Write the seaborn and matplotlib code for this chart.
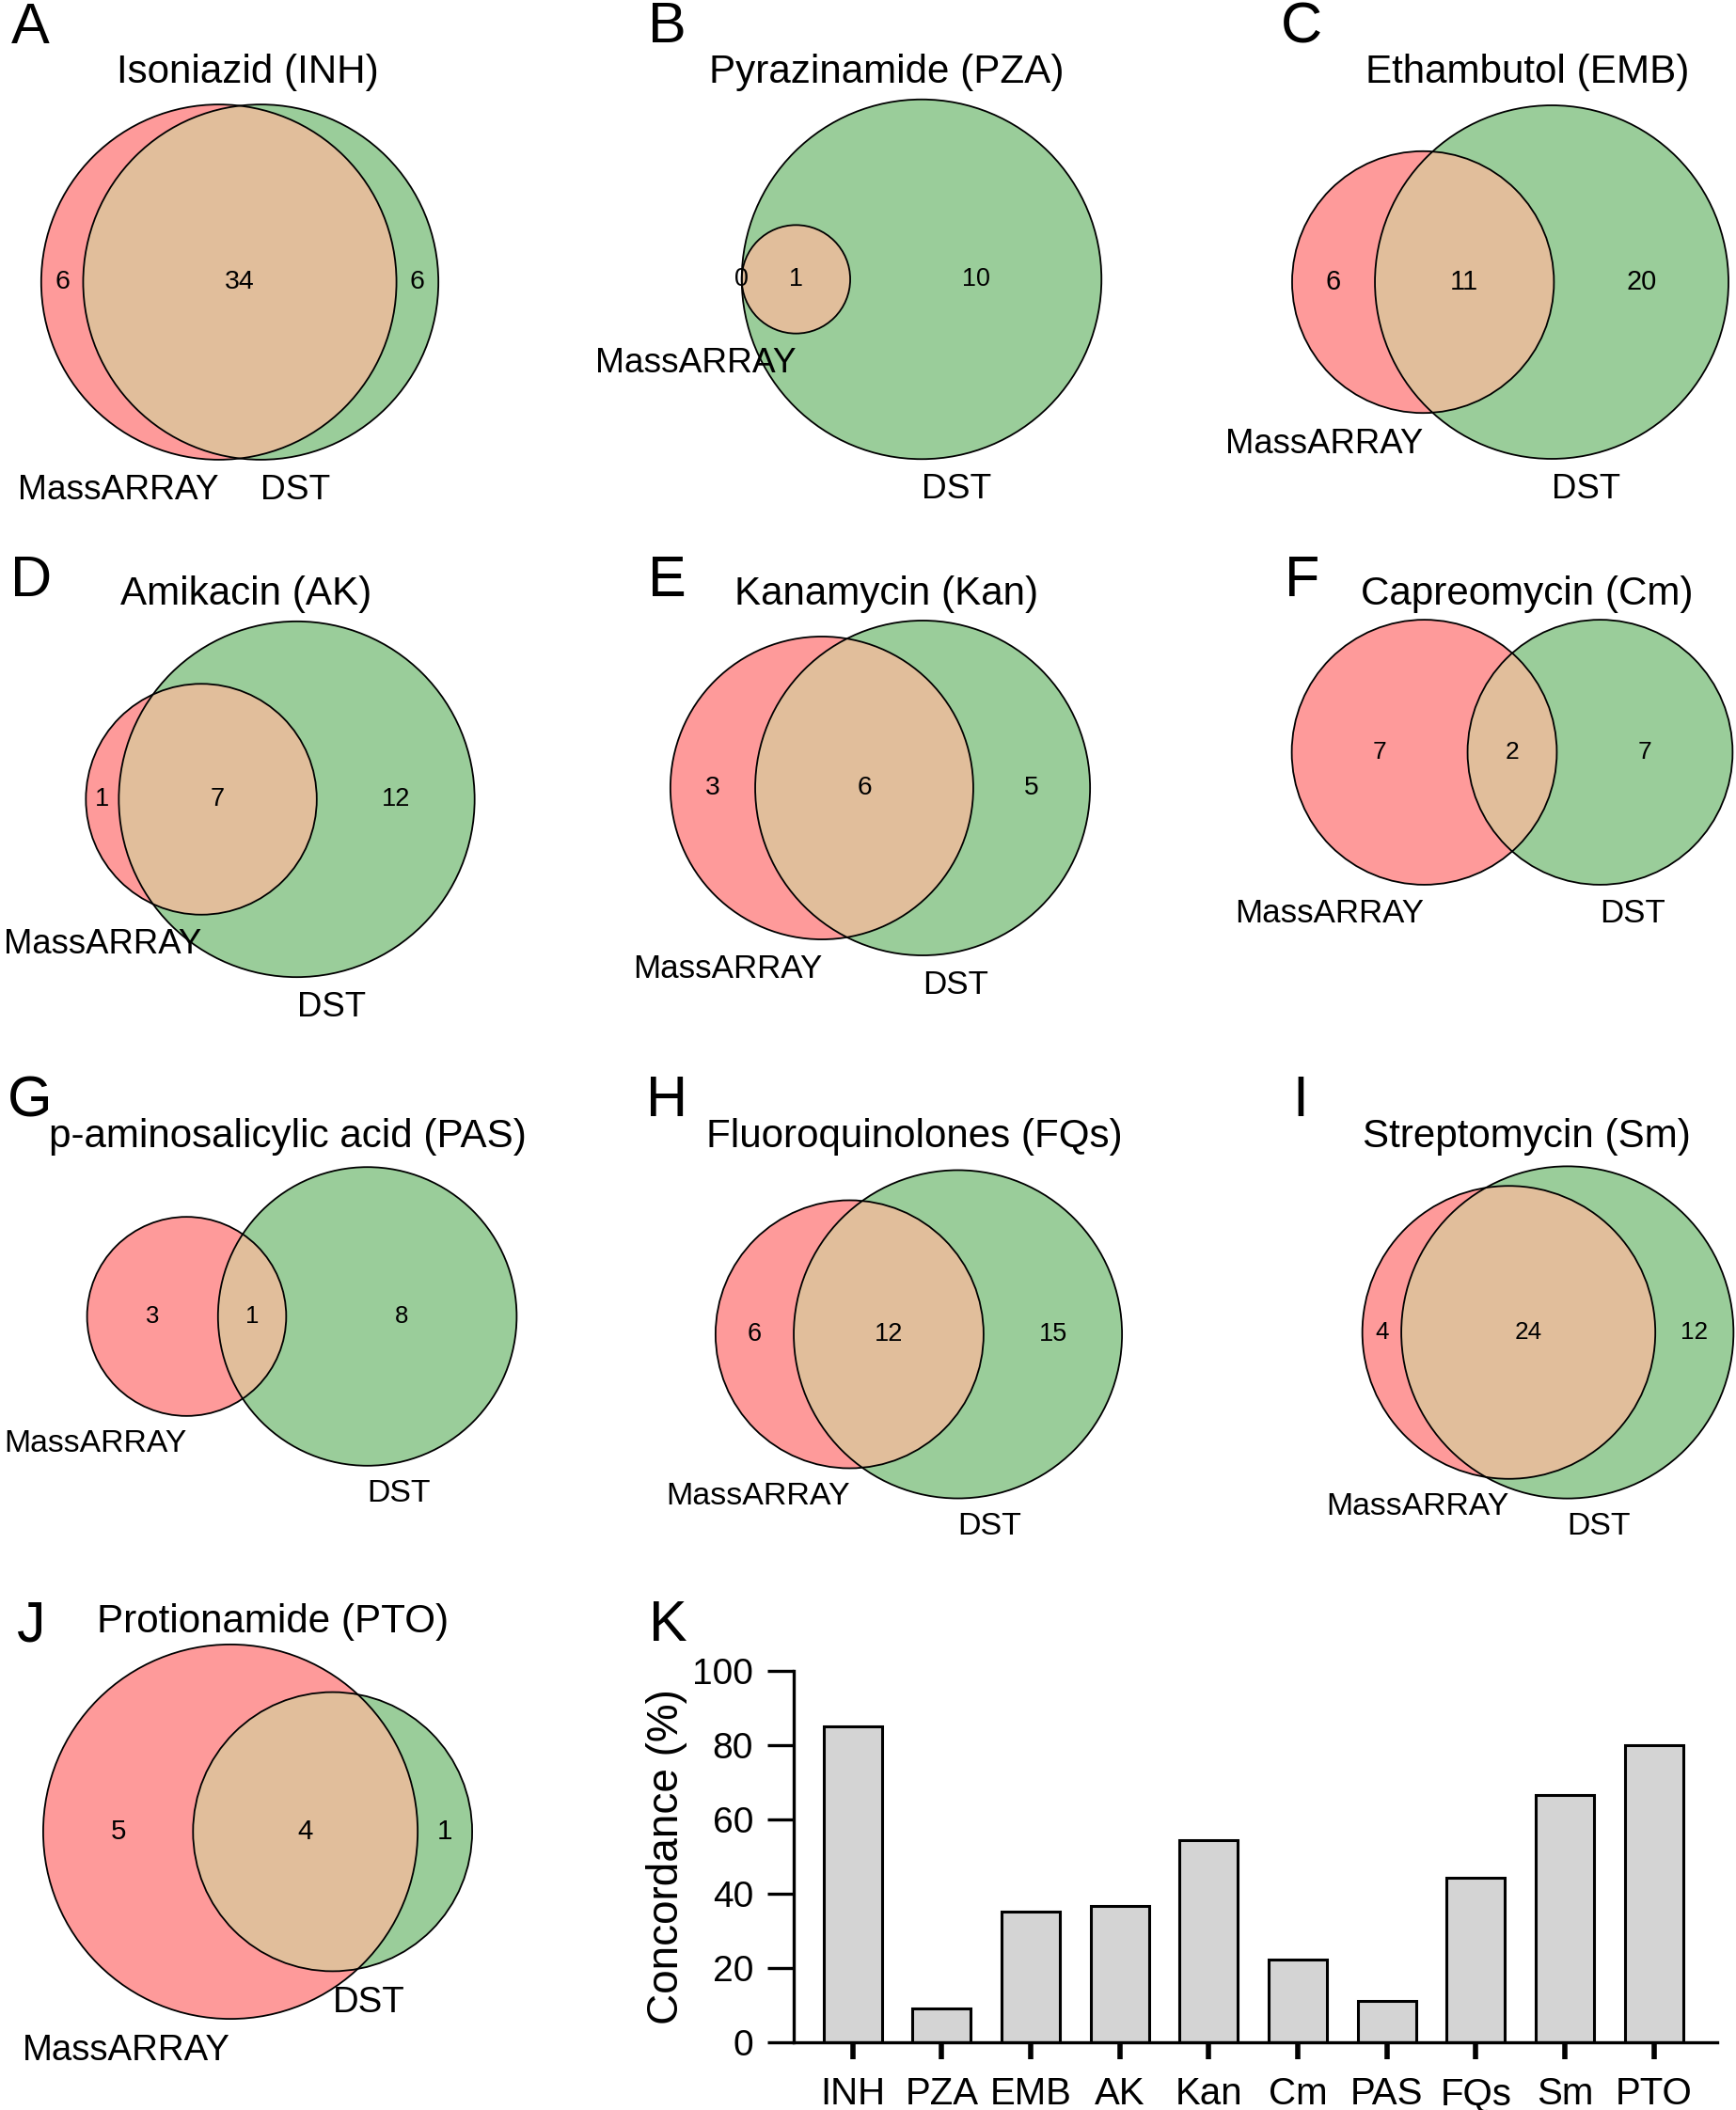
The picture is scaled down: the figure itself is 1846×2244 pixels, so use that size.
import numpy as np
import matplotlib
matplotlib.use("Agg")
import matplotlib.pyplot as plt
from matplotlib.patches import Circle
import seaborn as sns

# ---- data ----
drug_titles = ["Isoniazid (INH)", "Pyrazinamide (PZA)", "Ethambutol (EMB)",
               "Amikacin (AK)", "Kanamycin (Kan)", "Capreomycin (Cm)",
               "p-aminosalicylic acid (PAS)", "Fluoroquinolones (FQs)",
               "Streptomycin (Sm)", "Protionamide (PTO)"]
drug_codes = ["INH", "PZA", "EMB", "AK", "Kan", "Cm", "PAS", "FQs", "Sm", "PTO"]
massarray_only = [6, 0, 6, 1, 3, 7, 3, 6, 4, 5]
both = [34, 1, 11, 7, 6, 2, 1, 12, 24, 4]
dst_only = [6, 10, 20, 12, 5, 7, 8, 15, 12, 1]
concordance = [85.0, 9.1, 35.3, 36.8, 54.5, 22.2, 11.1, 44.4, 66.7, 80.0]
set_names = ["MassARRAY", "DST"]
panel_letters = ["A", "B", "C", "D", "E", "F", "G", "H", "I", "J", "K"]

# ---- layout (pixels) ----
W, H = 1846, 2244
# venn centre x, centre y, pixels per unit area-normalised length
venn_boxes = [(255, 300, 359), (980, 297, 339), (1606, 300, 364),
              (298, 850, 344), (936, 838, 356), (1608, 800, 333),
              (321, 1400, 325), (977, 1419, 342), (1646, 1417, 330),
              (274, 1948, 372)]
set_label_pt = [26.7, 26.7, 26.3, 26.3, 25.2, 25.1, 24.3, 24.5, 24.3, 27.6]
title_xy = [(263, 88), (943, 88), (1624, 88),
            (262, 643), (943, 643), (1624, 643),
            (306, 1220), (972, 1220), (1623, 1220),
            (290, 1736)]
letter_xy = [(12, 46), (689, 45), (1362, 45),
             (11, 634), (689, 634), (1366, 634),
             (8, 1187), (687, 1187), (1374, 1187),
             (18, 1745), (690, 1745)]
REF_SCALE = 359  # number sizes below are for this panel scale

RED = "#fe9a9a"
GREEN = "#9acd9a"
MIX = "#e1be9b"

sns.set_style("ticks")
plt.rcParams["font.family"] = ["Liberation Sans", "DejaVu Sans"]
for key in ["text.color", "axes.labelcolor", "xtick.color", "ytick.color", "axes.edgecolor"]:
    plt.rcParams[key] = "black"


def fx(x):
    return x / W


def fy(y):
    return 1 - y / H


def lens_area(ra, rb, d):
    if d >= ra + rb:
        return 0.0
    if d <= abs(ra - rb):
        return np.pi * min(ra, rb) ** 2
    a = ra ** 2 * np.arccos((d * d + ra * ra - rb * rb) / (2 * d * ra))
    b = rb ** 2 * np.arccos((d * d + rb * rb - ra * ra) / (2 * d * rb))
    c = 0.5 * np.sqrt((-d + ra + rb) * (d + ra - rb) * (d - ra + rb) * (d + ra + rb))
    return a + b - c


def solve_distance(ra, rb, target):
    lo, hi = abs(ra - rb), ra + rb
    if target >= lens_area(ra, rb, lo) - 1e-12:
        return lo
    for _ in range(200):
        mid = (lo + hi) / 2
        if lens_area(ra, rb, mid) > target:
            lo = mid
        else:
            hi = mid
    return (lo + hi) / 2


def draw_venn(fig, a_only, ab, b_only, cx, cy, scale, label_pt):
    k = scale / REF_SCALE
    total = a_only + ab + b_only
    ra = np.sqrt((a_only + ab) / total / np.pi)
    rb = np.sqrt((b_only + ab) / total / np.pi)
    d = solve_distance(ra, rb, ab / total)
    xa, xb = 0.0, d
    x0, x1 = min(xa - ra, xb - rb), max(xa + ra, xb + rb)
    ymax = max(ra, rb)
    mx = (x0 + x1) / 2
    half_w = (x1 - x0) / 2 + 0.2
    half_h = ymax + 0.2
    wpx, hpx = 2 * half_w * scale, 2 * half_h * scale
    ax = fig.add_axes([fx(cx - wpx / 2), fy(cy + hpx / 2), wpx / W, hpx / H])
    ax.set_xlim(mx - half_w, mx + half_w)
    ax.set_ylim(-half_h, half_h)
    ax.axis("off")

    ca = Circle((xa, 0), ra, facecolor=RED, edgecolor="none")
    cb = Circle((xb, 0), rb, facecolor=GREEN, edgecolor="none")
    ax.add_patch(ca)
    ax.add_patch(cb)
    lens = Circle((xb, 0), rb, facecolor=MIX, edgecolor="none")
    ax.add_patch(lens)
    lens.set_clip_path(ca)
    for (x, r) in [(xa, ra), (xb, rb)]:
        ax.add_patch(Circle((x, 0), r, fill=False, edgecolor="black", lw=1.3))

    # subset counts sit midway between the circle edges on the centre line
    pos = [((xa - ra) + (xb - rb)) / 2,
           ((xb - rb) + (xa + ra)) / 2,
           ((xa + ra) + (xb + rb)) / 2]
    for p, v in zip(pos, [a_only, ab, b_only]):
        ax.text(p, 0, str(v), ha="center", va="center", fontsize=20.5 * k)

    ax.annotate(set_names[0], xy=(xa, -ra), xytext=(0, -11 * k), textcoords="offset points",
                ha="right", va="top", fontsize=label_pt, annotation_clip=False)
    ax.annotate(set_names[1], xy=(xb, -rb), xytext=(0, -11 * k), textcoords="offset points",
                ha="left", va="top", fontsize=label_pt, annotation_clip=False)
    return ax


fig = plt.figure(figsize=(W / 100, H / 100), dpi=100)

for i in range(len(drug_titles)):
    cx, cy, s = venn_boxes[i]
    draw_venn(fig, massarray_only[i], both[i], dst_only[i], cx, cy, s, set_label_pt[i])
    tx, ty = title_xy[i]
    fig.text(fx(tx), fy(ty), drug_titles[i], ha="center", va="baseline", fontsize=30.3)

for letter, (lx, ly) in zip(panel_letters, letter_xy):
    fig.text(fx(lx), fy(ly), letter, ha="left", va="baseline", fontsize=44)

# ---- K: concordance bar chart ----
axk = fig.add_axes([fx(844), fy(2172), 982 / W, 395 / H])
sns.barplot(x=drug_codes, y=concordance, color="#d4d4d4", saturation=1,
            edgecolor="black", linewidth=2.2, width=0.655, ax=axk)
axk.set_xlim(-0.662, 9.71)
axk.set_ylim(0, 100)
axk.set_yticks([0, 20, 40, 60, 80, 100])
sns.despine(ax=axk)
for side in ["left", "bottom"]:
    axk.spines[side].set_linewidth(2.4)
axk.tick_params(axis="y", length=20, width=2.4, labelsize=28, pad=11)
axk.tick_params(axis="x", length=13, width=4, labelsize=29, pad=13)
axk.set_ylabel("Concordance (%)", fontsize=33, labelpad=4)
axk.set_xlabel("")

fig.savefig("out.png", dpi=100, facecolor="white")
